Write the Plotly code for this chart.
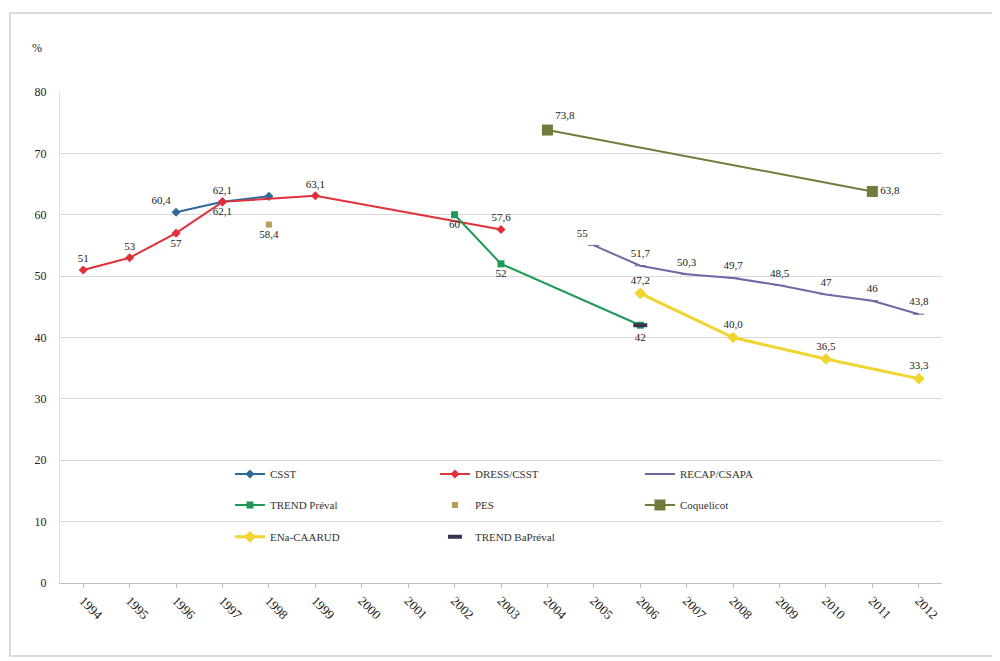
import plotly.graph_objects as go

years = [str(y) for y in range(1994, 2013)]

csst_x = ["1996", "1997", "1998"]
csst_y = [60.4, 62.1, 63.0]
csst_lbl = ["60,4", "62,1", ""]

dress_x = ["1994", "1995", "1996", "1997", "1999", "2003"]
dress_y = [51, 53, 57, 62.1, 63.1, 57.6]
dress_lbl = ["51", "53", "57", "62,1", "63,1", "57,6"]

recap_x = ["2005", "2006", "2007", "2008", "2009", "2010", "2011", "2012"]
recap_y = [55, 51.7, 50.3, 49.7, 48.5, 47, 46, 43.8]
recap_lbl = ["55", "51,7", "50,3", "49,7", "48,5", "47", "46", "43,8"]

trend_x = ["2002", "2003", "2006"]
trend_y = [60, 52, 42]
trend_lbl = ["60", "52", ""]

pes_x = ["1998"]
pes_y = [58.4]
pes_lbl = ["58,4"]

coq_x = ["2004", "2011"]
coq_y = [73.8, 63.8]
coq_lbl = ["73,8", "63,8"]

ena_x = ["2006", "2008", "2010", "2012"]
ena_y = [47.2, 40, 36.5, 33.3]
ena_lbl = ["47,2", "40,0", "36,5", "33,3"]

bap_x = ["2006"]
bap_y = [42]
bap_lbl = ["42"]

yticks = [0, 10, 20, 30, 40, 50, 60, 70, 80]

FONT = "Liberation Serif"
TXT = dict(family=FONT, size=11, color="#222")
fig = go.Figure()

def add(name, x, y, lbl, color, symbol, pos, legend, msize=7, lw=2, mode="lines+markers+text", mline=None):
    marker = dict(color=color, symbol=symbol, size=msize)
    if mline:
        marker["line"] = mline
    fig.add_trace(go.Scatter(
        x=x, y=y, name=name, mode=mode,
        text=lbl, textposition=pos, textfont=TXT,
        line=dict(color=color, width=lw),
        marker=marker, cliponaxis=False, legend=legend,
    ))

add("CSST", csst_x, csst_y, csst_lbl, "#2f6a9a", "diamond",
    ["top left", "top center", "top center"], "legend")
add("DRESS/CSST", dress_x, dress_y, dress_lbl, "#e0303a", "diamond",
    ["top center", "top center", "bottom center", "bottom center", "top center", "top center"], "legend")
add("RECAP/CSAPA", recap_x, recap_y, recap_lbl, "#6b6aa3", "line-ew-open",
    ["top left"] + ["top center"] * 7, "legend", msize=8)
add("TREND Préval", trend_x, trend_y, trend_lbl, "#1f9a55", "square",
    ["bottom center"] * 3, "legend2")
add("PES", pes_x, pes_y, pes_lbl, "#b89a5a", "square", "bottom center",
    "legend2", msize=6, mode="markers+text")
add("Coquelicot", coq_x, coq_y, coq_lbl, "#6f7d3c", "square",
    ["top right", "middle right"], "legend2", msize=11)
add("ENa-CAARUD", ena_x, ena_y, ena_lbl, "#f0d430", "diamond",
    ["top center"] * 4, "legend3", msize=9, lw=3)
add("TREND BaPréval", bap_x, bap_y, bap_lbl, "#3a3050", "line-ew-open",
    "bottom center", "legend3", msize=10, mode="markers+text",
    mline=dict(width=4, color="#3a3050"))

# frame around the whole chart
fig.add_shape(type="rect", xref="paper", yref="paper",
              x0=-0.0567, x1=1.066, y0=-0.1487, y1=1.161,
              line=dict(color="#cfcfcf", width=1.5), fillcolor="rgba(0,0,0,0)")
# legend background box
fig.add_shape(type="rect", xref="paper", yref="paper", layer="between",
              x0=0.188, x1=0.84, y0=0.057, y1=0.245,
              line=dict(width=0), fillcolor="white")

fig.add_annotation(text="%", xref="paper", yref="paper", x=-0.034, y=1.107,
                   showarrow=False, font=dict(family=FONT, size=12, color="#222"))

leg_common = dict(orientation="h", xanchor="left", yanchor="middle",
                  entrywidth=160, entrywidthmode="pixels",
                  bgcolor="rgba(0,0,0,0)", font=dict(family=FONT, size=11, color="#333"))
LX = 0.1927
fig.update_layout(
    width=1000, height=661,
    margin=dict(l=52, r=66, t=84, b=86),
    paper_bgcolor="white", plot_bgcolor="white",
    font=dict(family=FONT, size=12, color="#222"),
    showlegend=True,
    legend=dict(x=LX, y=0.222, **leg_common),
    legend2=dict(x=LX, y=0.159, **leg_common),
    legend3=dict(x=LX, y=0.094, **leg_common),
    xaxis=dict(type="category", categoryorder="array", categoryarray=years,
               tickvals=years, range=[-0.5, 18.5], tickangle=45,
               showgrid=False, showline=True, linecolor="#bdbdbd",
               ticks="outside", ticklen=4, tickcolor="#bdbdbd",
               tickfont=dict(family=FONT, size=13, color="#222")),
    yaxis=dict(range=[0, 80], tickvals=yticks, showgrid=True, gridcolor="#d9d9d9",
               zeroline=False, showline=True, linecolor="#e0e0e0",
               ticklabelstandoff=10,
               tickfont=dict(family=FONT, size=12, color="#222")),
)

fig.write_html("out.html")
